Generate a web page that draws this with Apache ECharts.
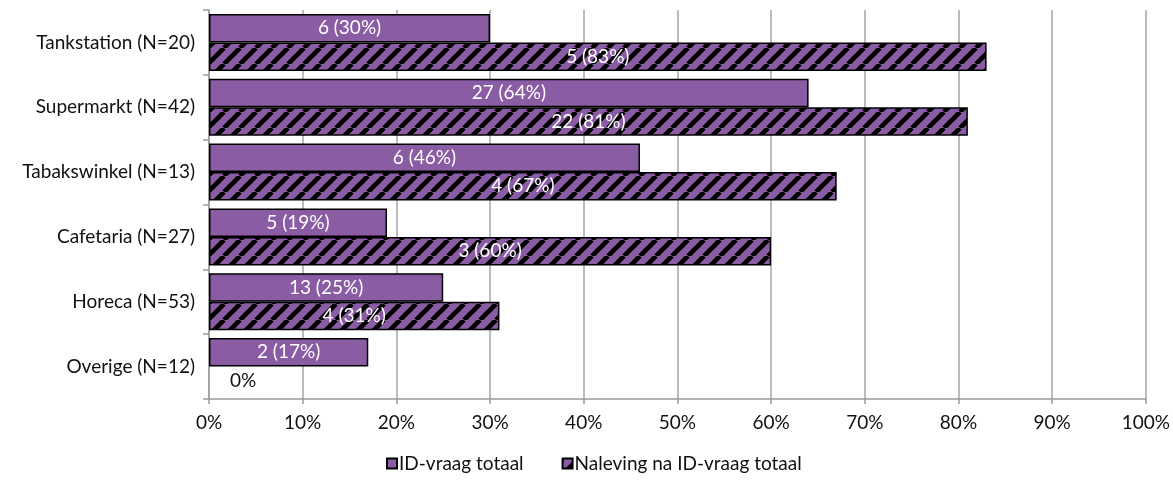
<!DOCTYPE html>
<html><head><meta charset="utf-8">
<script src="https://cdn.jsdelivr.net/npm/echarts@6/dist/echarts.min.js"></script>
<style>html,body{margin:0;padding:0;background:#fff}#c{width:1173px;height:493px}</style>
</head><body><div id="c"></div>
<script>
const categories = ['Tankstation (N=20)','Supermarkt (N=42)','Tabakswinkel (N=13)','Cafetaria (N=27)','Horeca (N=53)','Overige (N=12)'];
const idPct = [30, 64, 46, 19, 25, 17];
const idCount = [6, 27, 6, 5, 13, 2];
const nalPct = [83, 81, 67, 60, 31, 0];
const nalCount = [5, 22, 4, 3, 4, null];
const xTicks = [0,10,20,30,40,50,60,70,80,90,100];

const PURPLE = '#8A5CA4';
const FONT = 'Lato, "DejaVu Sans", sans-serif';
const FS = 19;

function makePattern(){
  const s = 16;
  const cv = document.createElement('canvas');
  cv.width = s; cv.height = s;
  const g = cv.getContext('2d');
  g.fillStyle = PURPLE; g.fillRect(0,0,s,s);
  g.strokeStyle = '#000'; g.lineWidth = 4.6;
  g.beginPath();
  for (let k=-1;k<=1;k++){ g.moveTo(k*s, s); g.lineTo(k*s+s, 0); }
  g.stroke();
  return cv;
}
const pat = makePattern();

const chart = echarts.init(document.getElementById('c'));
chart.setOption({
  animation:false,
  textStyle:{fontFamily:FONT},
  grid:{left:209,right:24,top:10,bottom:94},
  legend:{
    bottom:15, left:381, itemGap:38, itemWidth:10, itemHeight:10,
    icon:'rect',
    textStyle:{fontSize:FS,color:'#111',fontFamily:FONT,padding:[0,0,0,-3]},
    data:['ID-vraag totaal','Naleving na ID-vraag totaal']
  },
  xAxis:{
    type:'value', min:0, max:100, interval:10,
    axisLine:{show:true,lineStyle:{color:'#9b9b9b',width:1.5}},
    axisTick:{show:true,length:5,lineStyle:{color:'#9b9b9b',width:1.5}},
    splitLine:{show:true,lineStyle:{color:'#a6a6a6',width:1.5}},
    axisLabel:{formatter:v=>v+'%',fontSize:FS,color:'#111',margin:14,fontFamily:FONT}
  },
  yAxis:{
    type:'category', data:categories, inverse:true,
    axisLine:{show:true,lineStyle:{color:'#9b9b9b',width:1.5}},
    axisTick:{show:true,length:6,lineStyle:{color:'#9b9b9b',width:1.5}},
    axisLabel:{fontSize:FS,color:'#111',margin:14,fontFamily:FONT}
  },
  series:[
    {
      name:'ID-vraag totaal', type:'bar', barGap:'0%', barCategoryGap:'12%',
      data:idPct,
      itemStyle:{color:PURPLE,borderColor:'#000',borderWidth:1.5},
      label:{show:true,position:'inside',color:'#fff',fontSize:FS,fontFamily:FONT,
        formatter:p=>idCount[p.dataIndex]+' ('+idPct[p.dataIndex]+'%)'}
    },
    {
      name:'Naleving na ID-vraag totaal', type:'bar', barGap:'0%', barCategoryGap:'12%',
      data:nalPct.map((v,i)=> nalCount[i]==null ? {value:v,itemStyle:{borderWidth:0},label:{position:'right',distance:21,color:'#111'}} : v),
      itemStyle:{color:{image:pat,repeat:'repeat'},borderColor:'#000',borderWidth:1.5},
      label:{show:true,position:'inside',color:'#fff',fontSize:FS,fontFamily:FONT,
        formatter:p=> nalCount[p.dataIndex]==null ? nalPct[p.dataIndex]+'%' : nalCount[p.dataIndex]+' ('+nalPct[p.dataIndex]+'%)'}
    }
  ]
});
</script></body></html>
